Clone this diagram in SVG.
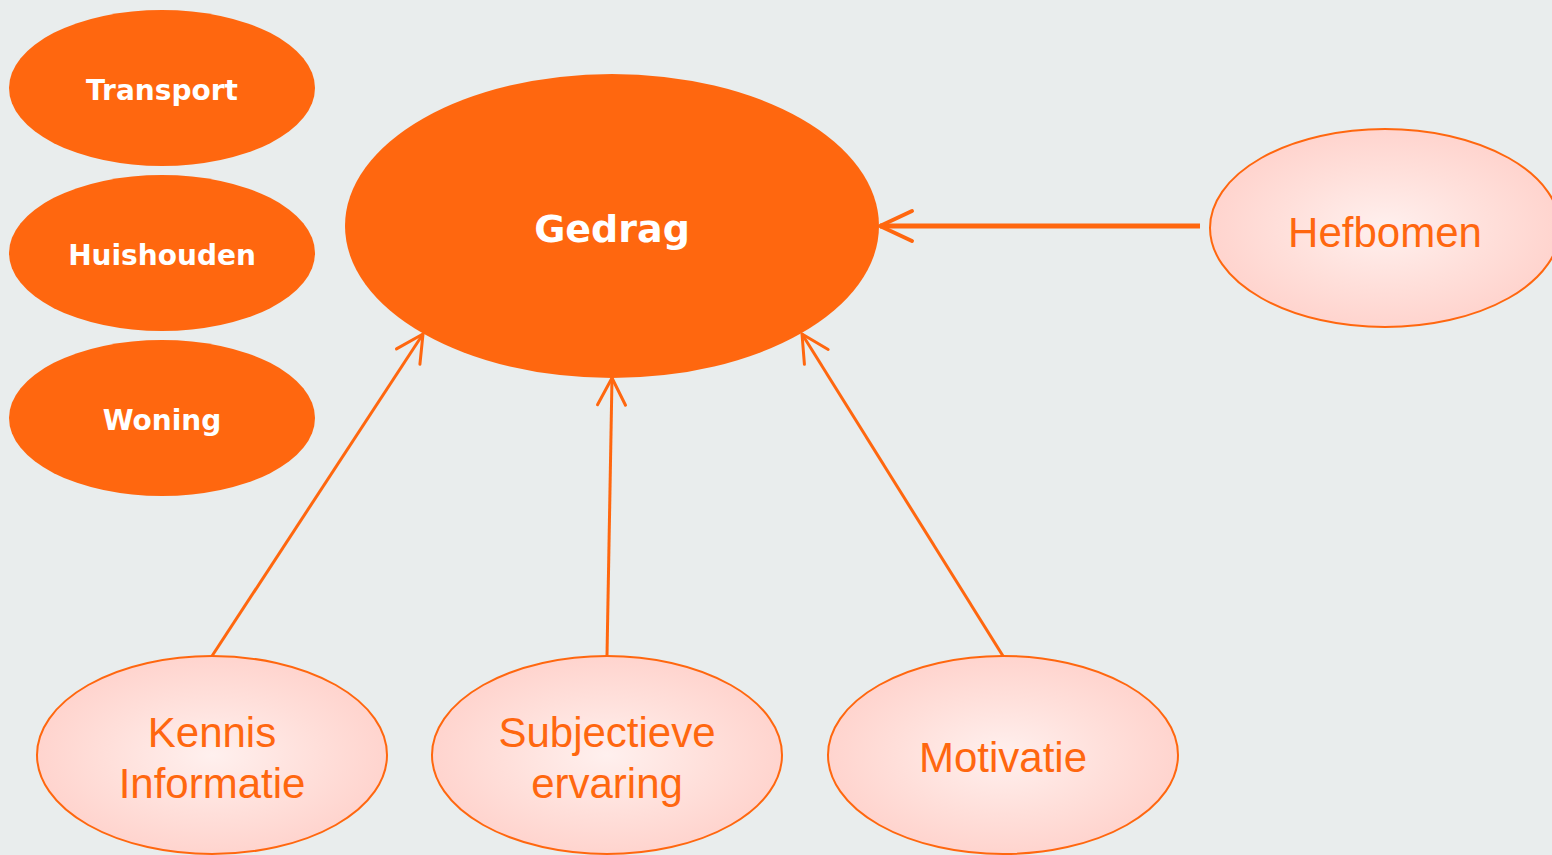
<svg xmlns="http://www.w3.org/2000/svg" width="1552" height="855" viewBox="0 0 1552 855">
<style>
.solid{fill:#FF670F}
.soft{fill:url(#pg);stroke:#FF670F;stroke-width:2}
.wl{font-family:"DejaVu Sans",Verdana,sans-serif;font-weight:bold;fill:#FFFFFF;text-anchor:middle}
.ol{font-family:"Liberation Sans",Arial,sans-serif;fill:#FF670F;text-anchor:middle;font-size:42px}
.conn{stroke:#FF670F;fill:none;stroke-width:3}
.thick{stroke-width:5}
</style>
<defs>
<radialGradient id="pg" cx="50%" cy="50%" r="50%">
<stop offset="0" stop-color="#FFF0EE"/>
<stop offset="0.6" stop-color="#FFDFDA"/>
<stop offset="1" stop-color="#FFD4CE"/>
</radialGradient>
<marker id="big" markerUnits="userSpaceOnUse" orient="auto" overflow="visible" refX="0" refY="0" markerWidth="1" markerHeight="1">
<path d="M-32,-15 L0,0 L-32,15" fill="none" stroke="#FF670F" stroke-width="4" stroke-linecap="round" stroke-linejoin="round"/>
</marker>
<marker id="sm" markerUnits="userSpaceOnUse" orient="auto" overflow="visible" refX="0" refY="0" markerWidth="1" markerHeight="1">
<path d="M-27,-14 L0,0 L-27,14" fill="none" stroke="#FF670F" stroke-width="3" stroke-linecap="round" stroke-linejoin="round"/>
</marker>
</defs>
<rect width="1552" height="855" fill="#E9EDED"/>
<g id="transport"><ellipse class="solid" cx="162" cy="88" rx="153" ry="78"/><text class="wl" x="162" y="100" font-size="28">Transport</text></g>
<g id="huishouden"><ellipse class="solid" cx="162" cy="253" rx="153" ry="78"/><text class="wl" x="162" y="265" font-size="28">Huishouden</text></g>
<g id="woning"><ellipse class="solid" cx="162" cy="418" rx="153" ry="78"/><text class="wl" x="162" y="430" font-size="28">Woning</text></g>
<g id="gedrag"><ellipse class="solid" cx="612" cy="226" rx="267" ry="152"/><text class="wl" x="612" y="242" font-size="38">Gedrag</text></g>
<g id="hefbomen"><ellipse class="soft" cx="1385" cy="228" rx="175" ry="99"/><text class="ol" x="1385" y="247">Hefbomen</text></g>
<g id="kennis"><ellipse class="soft" cx="212" cy="755" rx="175" ry="99"/><text class="ol" x="212" y="747">Kennis</text><text class="ol" x="212" y="798">Informatie</text></g>
<g id="subjectieve"><ellipse class="soft" cx="607" cy="755" rx="175" ry="99"/><text class="ol" x="607" y="747">Subjectieve</text><text class="ol" x="607" y="798">ervaring</text></g>
<g id="motivatie"><ellipse class="soft" cx="1003" cy="755" rx="175" ry="99"/><text class="ol" x="1003" y="772">Motivatie</text></g>
<g id="connectors">
<line class="conn thick" x1="1200" y1="226" x2="880" y2="226" marker-end="url(#big)"/>
<line class="conn" x1="212" y1="656" x2="423" y2="334" marker-end="url(#sm)"/>
<line class="conn" x1="607" y1="656" x2="612" y2="378" marker-end="url(#sm)"/>
<line class="conn" x1="1003" y1="656" x2="802" y2="334" marker-end="url(#sm)"/>
</g>
</svg>
